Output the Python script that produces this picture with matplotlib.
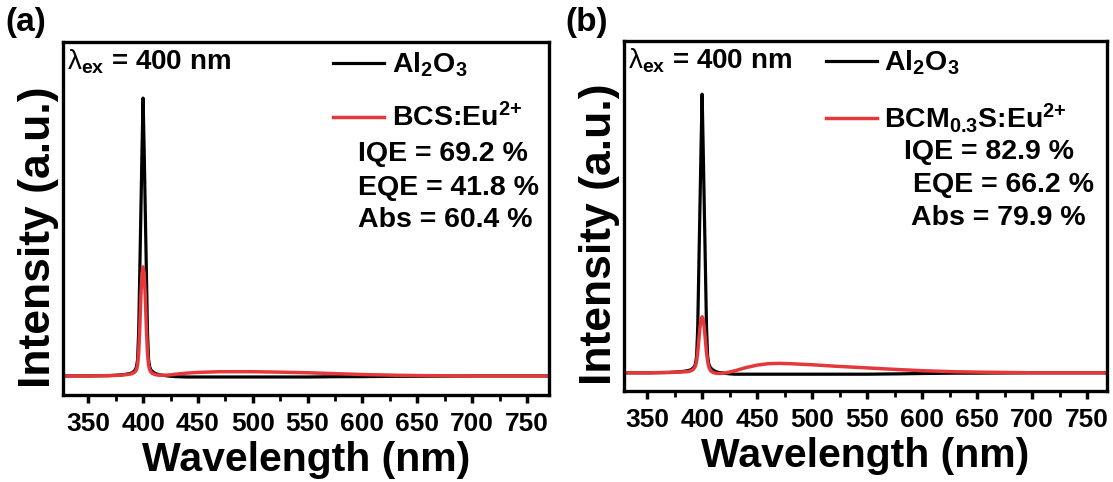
import matplotlib
matplotlib.use("Agg")
import matplotlib.pyplot as plt
from matplotlib.ticker import MultipleLocator

plt.rcParams["font.family"] = "Liberation Sans"
plt.rcParams["font.weight"] = "bold"
plt.rcParams["mathtext.fontset"] = "custom"
plt.rcParams["mathtext.rm"] = "Liberation Sans:bold"
plt.rcParams["mathtext.it"] = "Liberation Sans:bold"
plt.rcParams["mathtext.bf"] = "Liberation Sans:bold"
plt.rcParams["mathtext.sf"] = "Liberation Sans:normal"

# wavelength grid (nm), denser around the 400 nm excitation line
wl = [327, 350, 370, 380, 385, 388, 390, 392, 393, 394, 395, 396, 397, 398,
      399, 400, 401, 402, 403, 404, 405, 406, 407, 408, 410, 412, 415, 420,
      425, 430, 440, 450, 460, 470, 480, 500, 520, 550, 580, 600, 630, 650,
      700, 770]

# panel (a): Al2O3 reference and BCS:Eu2+
ref_a = [0.054, 0.054, 0.055, 0.057, 0.059, 0.061, 0.063, 0.068, 0.072, 0.080,
         0.10, 0.18, 0.35, 0.52, 0.69, 0.841, 0.69, 0.52, 0.35, 0.18, 0.10,
         0.080, 0.072, 0.068, 0.063, 0.060, 0.057, 0.055, 0.053, 0.052, 0.051,
         0.051, 0.051, 0.051, 0.051, 0.051, 0.051, 0.051, 0.052, 0.052, 0.053,
         0.053, 0.054, 0.054]
smp_a = [0.054, 0.054, 0.055, 0.056, 0.058, 0.059, 0.061, 0.064, 0.067, 0.072,
         0.085, 0.12, 0.19, 0.28, 0.345, 0.363, 0.345, 0.28, 0.19, 0.12, 0.085,
         0.072, 0.066, 0.062, 0.059, 0.057, 0.056, 0.056, 0.057, 0.059, 0.062,
         0.064, 0.065, 0.066, 0.066, 0.066, 0.065, 0.063, 0.060, 0.058, 0.056,
         0.055, 0.054, 0.054]

# panel (b): Al2O3 reference and BCM0.3S:Eu2+
ref_b = [0.052, 0.052, 0.053, 0.055, 0.057, 0.059, 0.061, 0.066, 0.070, 0.078,
         0.10, 0.18, 0.35, 0.52, 0.69, 0.848, 0.69, 0.52, 0.35, 0.18, 0.10,
         0.078, 0.070, 0.065, 0.060, 0.056, 0.053, 0.051, 0.049, 0.048, 0.048,
         0.048, 0.048, 0.048, 0.048, 0.048, 0.048, 0.048, 0.049, 0.050, 0.051,
         0.051, 0.052, 0.052]
smp_b = [0.052, 0.052, 0.053, 0.054, 0.055, 0.056, 0.058, 0.062, 0.066, 0.072,
         0.085, 0.11, 0.145, 0.18, 0.205, 0.212, 0.205, 0.18, 0.145, 0.11, 0.085,
         0.070, 0.062, 0.057, 0.053, 0.051, 0.050, 0.051, 0.054, 0.058, 0.067,
         0.074, 0.078, 0.079, 0.078, 0.075, 0.071, 0.066, 0.061, 0.058, 0.055,
         0.054, 0.052, 0.052]

ref_label = "Al$_2$O$_3$"
smp_labels = ["BCS:Eu$^{2{+}}$", "BCM$_{0.3}$S:Eu$^{2{+}}$"]
stats_a = ["IQE = 69.2 %", "EQE = 41.8 %", "Abs = 60.4 %"]
stats_b = ["IQE = 82.9 %", "EQE = 66.2 %", "Abs = 79.9 %"]

RED = "#e5383b"
W, H = 1113, 482

fig = plt.figure(figsize=(W / 100, H / 100), dpi=100)


def panel(rect, xlim, ref, smp, smp_label, stats, leg_xy, stat_pos, tag, tag_x):
    l, r, t, b = rect
    ax = fig.add_axes([l / W, 1 - b / H, (r - l) / W, (b - t) / H])
    ax.plot(wl, ref, color="black", lw=2.3, label=ref_label)
    ax.plot(wl, smp, color=RED, lw=2.5, label=smp_label)
    ax.set_xlim(*xlim)
    ax.set_ylim(0, 1)
    ax.xaxis.set_major_locator(MultipleLocator(50))
    ax.xaxis.set_minor_locator(MultipleLocator(25))
    ax.tick_params(axis="x", which="major", direction="out", length=6,
                   width=2.5, labelsize=19, pad=6)
    ax.tick_params(axis="x", which="minor", direction="out", length=4,
                   width=2)
    ax.tick_params(axis="y", which="both", left=False, labelleft=False)
    for s in ax.spines.values():
        s.set_linewidth(2.4)
    ax.set_xlabel("Wavelength (nm)", fontsize=29.5, fontweight="bold",
                  labelpad=4)
    ax.set_ylabel("Intensity (a.u.)", fontsize=32, fontweight="bold")
    ax.yaxis.set_label_coords(-0.008, 0.448)
    ax.text(0.008, 0.985, r"$\mathsf{\lambda}_{ex}$ = 400 nm", fontsize=20,
            fontweight="bold", transform=ax.transAxes, ha="left", va="top")
    ax.legend(loc="upper left", bbox_to_anchor=leg_xy, frameon=False,
              handlelength=1.8, handletextpad=0.25, labelspacing=0.85,
              borderpad=0, borderaxespad=0,
              prop={"size": 20.5, "weight": "bold"})
    for s, (x, y) in zip(stats, stat_pos):
        ax.text(x, y, s, fontsize=20.5, fontweight="bold",
                transform=ax.transAxes, ha="left", va="center")
    fig.text(tag_x / W, 1 - 22 / H, tag, fontsize=24, fontweight="bold",
             ha="left", va="center")
    return ax


panel((63, 549, 42, 395), (327, 770), ref_a, smp_a, smp_labels[0], stats_a,
      (0.556, 0.975), [(0.607, 0.682), (0.607, 0.586), (0.607, 0.495)],
      "(a)", 5)
panel((624, 1107, 41, 391), (329, 768), ref_b, smp_b, smp_labels[1], stats_b,
      (0.418, 0.978), [(0.580, 0.684), (0.598, 0.590), (0.594, 0.495)],
      "(b)", 565)

fig.savefig("out.png", dpi=100)
